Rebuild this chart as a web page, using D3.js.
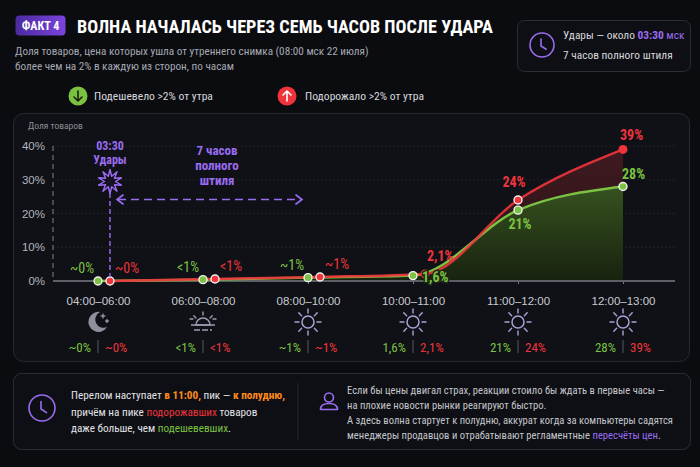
<!DOCTYPE html>
<html>
<head>
<meta charset="utf-8">
<script src="https://cdn.jsdelivr.net/npm/d3@7"></script>
<style>
  html, body { margin: 0; padding: 0; background: #0b0c10; }
  svg { display: block; font-family: "Roboto Condensed", "Liberation Sans Narrow", "DejaVu Sans Condensed", Roboto, sans-serif; }
</style>
</head>
<body>
<div id="chart"></div>
<script>
// Data
const categories = ["04:00–06:00", "06:00–08:00", "08:00–10:00", "10:00–11:00", "11:00–12:00", "12:00–13:00"];
const cheaper = [0, 0.4, 1, 1.6, 21, 28];      // подешевело >2%
const pricier = [0, 0.6, 1.2, 2.1, 24, 39];    // подорожало >2%
const cheaperLabels = ["~0%", "<1%", "~1%", "1,6%", "21%", "28%"];
const pricierLabels = ["~0%", "<1%", "~1%", "2,1%", "24%", "39%"];
const yTicks = [0, 10, 20, 30, 40];
const icons = ["moon", "sunrise", "sun", "sun", "sun", "sun"];

const W = 700, H = 467;
const GREEN = "#7cc242", RED = "#f0343c", PURPLE = "#9a6cf0", ORANGE = "#ff8a1c";

const svg = d3.select("#chart").append("svg")
    .attr("width", W)
    .attr("height", H)
    .attr("viewBox", `0 0 ${W} ${H}`);

const defs = svg.append("defs");
const badgeGrad = defs.append("linearGradient").attr("id", "badge").attr("x1", 0).attr("x2", 1);
badgeGrad.append("stop").attr("offset", 0).attr("stop-color", "#4b2a9e");
badgeGrad.append("stop").attr("offset", 1).attr("stop-color", "#7a44de");
const gArea = defs.append("linearGradient").attr("id", "gArea").attr("x1", 0).attr("x2", 0).attr("y1", 0).attr("y2", 1);
gArea.append("stop").attr("offset", 0).attr("stop-color", "#36521f");
gArea.append("stop").attr("offset", 1).attr("stop-color", "#18220f");
const rArea = defs.append("linearGradient").attr("id", "rArea").attr("x1", 0).attr("x2", 0).attr("y1", 0).attr("y2", 1);
rArea.append("stop").attr("offset", 0).attr("stop-color", "#3e1a20");
rArea.append("stop").attr("offset", 1).attr("stop-color", "#2a1217");

svg.append("rect").attr("width", W).attr("height", H).attr("fill", "#0b0c10");

// ---------- Header ----------
svg.append("rect").attr("x", 15.5).attr("y", 15.5).attr("width", 50).attr("height", 20)
    .attr("rx", 4).attr("fill", "url(#badge)");
svg.append("text").attr("x", 40.5).attr("y", 30).attr("text-anchor", "middle")
    .attr("fill", "#fff").attr("font-size", 12).attr("font-weight", 700).text("ФАКТ 4");
svg.append("text").attr("x", 77).attr("y", 32.5)
    .attr("fill", "#fff").attr("font-size", 18.2).attr("font-weight", 700)
    .text("ВОЛНА НАЧАЛАСЬ ЧЕРЕЗ СЕМЬ ЧАСОВ ПОСЛЕ УДАРА");

const sub = svg.append("text").attr("fill", "#a6a9b1").attr("font-size", 11.2);
sub.append("tspan").attr("x", 15).attr("y", 55).text("Доля товаров, цена которых ушла от утреннего снимка (08:00 мск 22 июля)");
sub.append("tspan").attr("x", 15).attr("y", 70).text("более чем на 2% в каждую из сторон, по часам");

// Legend
function arrowIcon(g, cx, cy, color, up, arrowColor) {
    g.append("circle").attr("cx", cx).attr("cy", cy).attr("r", 9.5).attr("fill", color);
    const d = up ? -1 : 1;
    g.append("path")
        .attr("d", `M${cx},${cy - 5 * d}L${cx},${cy + 5 * d}M${cx - 4},${cy + 1 * d}L${cx},${cy + 5 * d}L${cx + 4},${cy + 1 * d}`)
        .attr("fill", "none").attr("stroke", arrowColor).attr("stroke-width", 1.6)
        .attr("stroke-linecap", "round").attr("stroke-linejoin", "round");
}
const legend = svg.append("g");
arrowIcon(legend, 78, 96, GREEN, false, "#15200c");
legend.append("text").attr("x", 94).attr("y", 100).attr("fill", "#d6d7dc").attr("font-size", 11.6)
    .text("Подешевело >2% от утра");
arrowIcon(legend, 287, 96, RED, true, "#fff");
legend.append("text").attr("x", 305).attr("y", 100).attr("fill", "#d6d7dc").attr("font-size", 11.6)
    .text("Подорожало >2% от утра");

// Clock icon
function clock(g, cx, cy, r) {
    g.append("circle").attr("cx", cx).attr("cy", cy).attr("r", r)
        .attr("fill", "none").attr("stroke", PURPLE).attr("stroke-width", 1.6);
    g.append("path").attr("d", `M${cx - 1},${cy - r * 0.5}L${cx - 1},${cy + 1}L${cx + r * 0.35},${cy + r * 0.35}`)
        .attr("fill", "none").attr("stroke", PURPLE).attr("stroke-width", 1.6).attr("stroke-linecap", "round");
}

// Top-right box
const info = svg.append("g");
info.append("rect").attr("x", 517.5).attr("y", 20.5).attr("width", 173).attr("height", 51).attr("rx", 7)
    .attr("fill", "#0e0f14").attr("stroke", "#2c2e36");
clock(info, 542, 45, 12);
const t1 = info.append("text").attr("x", 563).attr("y", 39).attr("font-size", 11.4).attr("fill", "#d6d7dc");
t1.append("tspan").text("Удары — около ");
t1.append("tspan").attr("fill", PURPLE).attr("font-weight", 700).text("03:30 ");
t1.append("tspan").attr("fill", PURPLE).text("мск");
info.append("text").attr("x", 563).attr("y", 59).attr("font-size", 11.4).attr("fill", "#d6d7dc")
    .text("7 часов полного штиля");

// ---------- Chart panel ----------
svg.append("rect").attr("x", 13.5).attr("y", 113.5).attr("width", 676).attr("height", 248).attr("rx", 10)
    .attr("fill", "#0f1117").attr("stroke", "#262931");

svg.append("text").attr("x", 28).attr("y", 129).attr("fill", "#8a8d96").attr("font-size", 9.5)
    .text("Доля товаров");

const x = d3.scalePoint().domain(categories).range([98, 623]);
const y = d3.scaleLinear().domain([0, 40]).range([281, 146]);
const left = 53, right = 675;

// red points are nudged right when both values sit together near zero
const shift = i => Math.abs(pricier[i] - cheaper[i]) < 1 ? 12 : 0;
const gx = i => x(categories[i]);
const rx = i => x(categories[i]) + shift(i);

// grid
svg.append("g").selectAll("line")
    .data(yTicks.filter(t => t > 0))
    .join("line")
    .attr("x1", left).attr("x2", right)
    .attr("y1", d => y(d)).attr("y2", d => y(d))
    .attr("stroke", "#20232b").attr("stroke-dasharray", "2,2");

// y axis
const yAxis = svg.append("g").attr("transform", `translate(${left},0)`)
    .call(d3.axisLeft(y).tickValues(yTicks).tickFormat(d => d + "%").tickSize(0).tickPadding(8));
yAxis.select(".domain").remove();
yAxis.selectAll("text").attr("fill", "#b4b6bd").attr("font-size", 11.5).attr("font-family", null);
svg.append("line").attr("x1", left).attr("x2", left).attr("y1", y(40)).attr("y2", y(0))
    .attr("stroke", "#5b5e67").attr("stroke-width", 1.5).attr("stroke-dasharray", "5,4");

// areas
const idx = d3.range(categories.length);
const redArea = d3.area().x(i => rx(i)).y0(y(0)).y1(i => y(pricier[i])).curve(d3.curveMonotoneX);
const greenArea = d3.area().x(i => gx(i)).y0(y(0)).y1(i => y(cheaper[i])).curve(d3.curveMonotoneX);
svg.append("path").datum(idx).attr("d", redArea).attr("fill", "url(#rArea)");
svg.append("path").datum(idx).attr("d", greenArea).attr("fill", "url(#gArea)");

// baseline and x axis
const xAxis = svg.append("g").attr("transform", `translate(0,${y(0)})`)
    .call(d3.axisBottom(x).tickSize(3).tickPadding(13));
xAxis.select(".domain").remove();
xAxis.selectAll(".tick line").attr("stroke", "#777a83");
xAxis.selectAll("text").attr("fill", "#c9cbd1").attr("font-size", 11.5).attr("font-family", null);
svg.append("line").attr("x1", left).attr("x2", right).attr("y1", y(0)).attr("y2", y(0))
    .attr("stroke", "#5c5f68").attr("stroke-width", 2);

// lines
const greenLine = d3.line().x(i => gx(i)).y(i => y(cheaper[i])).curve(d3.curveMonotoneX);
const redLine = d3.line().x(i => rx(i)).y(i => y(pricier[i])).curve(d3.curveMonotoneX);
svg.append("path").datum(idx).attr("d", greenLine).attr("fill", "none").attr("stroke", GREEN).attr("stroke-width", 2.5);
svg.append("path").datum(idx).attr("d", redLine).attr("fill", "none").attr("stroke", RED).attr("stroke-width", 2.5).attr("stroke-opacity", 0.9);

// points
const last = categories.length - 1;
svg.append("g").selectAll("circle").data(idx).join("circle")
    .attr("cx", i => gx(i)).attr("cy", i => y(cheaper[i])).attr("r", 4)
    .attr("fill", GREEN).attr("stroke", "#f2f2f2").attr("stroke-width", 1.4);
svg.append("g").selectAll("circle").data(idx).join("circle")
    .attr("cx", i => rx(i)).attr("cy", i => y(pricier[i])).attr("r", i => i === last || i === 3 ? 4.5 : 4)
    .attr("fill", RED).attr("stroke", i => i === last || i === 3 ? "none" : "#f2f2f2").attr("stroke-width", 1.4);

// point labels (dark halo keeps them readable over the lines)
const gPlace = [[-4, -8, "end"], [-4, -8, "end"], [-4, -8, "end"], [9, 6, "start"], [2, 19, "middle"], [-1, -8, "start"]];
const rPlace = [[5, -8, "start"], [5, -8, "start"], [5, -8, "start"], [2, -13, "start"], [-4, -13, "middle"], [-3, -9, "start"]];
svg.append("g").selectAll("text").data(idx).join("text")
    .attr("x", i => gx(i) + gPlace[i][0]).attr("y", i => y(cheaper[i]) + gPlace[i][1])
    .attr("text-anchor", i => gPlace[i][2])
    .attr("fill", GREEN).attr("font-size", 14).attr("font-weight", i => i > 2 ? 700 : 400)
    .attr("stroke", i => i === 3 ? "#1c2614" : "none").attr("stroke-width", 3).attr("paint-order", "stroke")
    .text(i => cheaperLabels[i]);
svg.append("g").selectAll("text").data(idx).join("text")
    .attr("x", i => rx(i) + rPlace[i][0]).attr("y", i => y(pricier[i]) + rPlace[i][1])
    .attr("text-anchor", i => rPlace[i][2])
    .attr("fill", RED).attr("font-size", 14).attr("font-weight", i => i > 2 ? 700 : 400)
    .text(i => pricierLabels[i]);

// strike annotation at 03:30
const sx = rx(0);
const ann = svg.append("g");
ann.append("text").attr("x", sx).attr("y", 150).attr("text-anchor", "middle")
    .attr("fill", PURPLE).attr("font-size", 12).attr("font-weight", 700).text("03:30");
ann.append("text").attr("x", sx).attr("y", 164).attr("text-anchor", "middle")
    .attr("fill", PURPLE).attr("font-size", 12).attr("font-weight", 700).text("Удары");
const star = d3.range(20).map(k => {
    const a = k * Math.PI / 10 - Math.PI / 2;
    const r = k % 2 === 0 ? 12 : 5.5;
    return [sx + r * Math.cos(a), 181.5 + r * Math.sin(a)];
});
ann.append("path").attr("d", d3.line()(star) + "Z")
    .attr("fill", "#15131f").attr("stroke", PURPLE).attr("stroke-width", 1.4).attr("stroke-linejoin", "round");
ann.append("line").attr("x1", sx).attr("x2", sx).attr("y1", 193).attr("y2", y(0) - 4)
    .attr("stroke", PURPLE).attr("stroke-width", 1.4).attr("stroke-dasharray", "5,3");

// "7 часов полного штиля" span arrow
const ay = 199.5, ax1 = 117, ax2 = 302;
ann.append("line").attr("x1", ax1 + 1).attr("x2", ax2 - 1).attr("y1", ay).attr("y2", ay)
    .attr("stroke", PURPLE).attr("stroke-width", 1.6).attr("stroke-dasharray", "8,5");
ann.append("path")
    .attr("d", `M${ax1 + 6},${ay - 4.5}L${ax1},${ay}L${ax1 + 6},${ay + 4.5}M${ax2 - 6},${ay - 4.5}L${ax2},${ay}L${ax2 - 6},${ay + 4.5}`)
    .attr("fill", "none").attr("stroke", PURPLE).attr("stroke-width", 1.6).attr("stroke-linecap", "round");
["7 часов", "полного", "штиля"].forEach((s, k) => {
    ann.append("text").attr("x", 217).attr("y", 155 + k * 15).attr("text-anchor", "middle")
        .attr("fill", PURPLE).attr("font-size", 13).attr("font-weight", 700).text(s);
});

// ---------- time-of-day icons and value row ----------
const ICON = "#9c9db0", SUN = "#a8a4d6";
function drawIcon(g, type, cx, cy) {
    if (type === "moon") {
        g.append("path")
            .attr("d", `M${cx + 2},${cy - 10}A10,10 0 1,0 ${cx + 9},${cy + 5}A8,8 0 0,1 ${cx + 2},${cy - 10}Z`)
            .attr("fill", "#8e8f9c");
        [[cx + 5, cy - 6, 2.5], [cx + 9, cy - 1, 2]].forEach(([px, py, s]) => {
            g.append("path").attr("d", `M${px},${py - s}L${px},${py + s}M${px - s},${py}L${px + s},${py}`)
                .attr("stroke", "#b8b9c6").attr("stroke-width", 1);
        });
    } else if (type === "sunrise") {
        g.append("path").attr("d", `M${cx - 7},${cy + 3}A7,7 0 0,1 ${cx + 7},${cy + 3}Z`)
            .attr("fill", "none").attr("stroke", ICON).attr("stroke-width", 1.5);
        g.append("line").attr("x1", cx - 12).attr("x2", cx + 12).attr("y1", cy + 3).attr("y2", cy + 3)
            .attr("stroke", ICON).attr("stroke-width", 1.5);
        g.append("line").attr("x1", cx - 9).attr("x2", cx + 9).attr("y1", cy + 8).attr("y2", cy + 8)
            .attr("stroke", ICON).attr("stroke-width", 1.3).attr("stroke-dasharray", "6,2");
        [-90, -45, -135, 0, 180].forEach(a => {
            const r = a * Math.PI / 180;
            const side = a === 0 || a === 180 ? 6 : 0;
            g.append("line")
                .attr("x1", cx + 10 * Math.cos(r)).attr("y1", cy + 3 + 10 * Math.sin(r) - side)
                .attr("x2", cx + 13 * Math.cos(r)).attr("y2", cy + 3 + 13 * Math.sin(r) - side)
                .attr("stroke", ICON).attr("stroke-width", 1.4).attr("stroke-linecap", "round");
        });
    } else {
        g.append("circle").attr("cx", cx).attr("cy", cy).attr("r", 6)
            .attr("fill", "none").attr("stroke", SUN).attr("stroke-width", 1.5);
        d3.range(8).forEach(k => {
            const a = k * Math.PI / 4;
            g.append("line")
                .attr("x1", cx + 9 * Math.cos(a)).attr("y1", cy + 9 * Math.sin(a))
                .attr("x2", cx + 13 * Math.cos(a)).attr("y2", cy + 13 * Math.sin(a))
                .attr("stroke", SUN).attr("stroke-width", 1.4).attr("stroke-linecap", "round");
        });
    }
}
const row = svg.append("g");
idx.forEach(i => {
    const cx = x(categories[i]);
    drawIcon(row, icons[i], cx, 322);
    row.append("text").attr("x", cx - 7).attr("y", 351.5).attr("text-anchor", "end")
        .attr("fill", GREEN).attr("font-size", 13).text(cheaperLabels[i]);
    row.append("line").attr("x1", cx).attr("x2", cx).attr("y1", 340).attr("y2", 353)
        .attr("stroke", "#4a4d56").attr("stroke-width", 1.2);
    row.append("text").attr("x", cx + 7).attr("y", 351.5).attr("text-anchor", "start")
        .attr("fill", RED).attr("font-size", 13).text(pricierLabels[i]);
});

// ---------- Bottom note ----------
const note = svg.append("g");
note.append("rect").attr("x", 13.5).attr("y", 373.5).attr("width", 677).attr("height", 76).attr("rx", 8)
    .attr("fill", "#0e0f14").attr("stroke", "#2c2e36");
clock(note, 42, 408, 13);

const leftLines = [
    [["Перелом наступает ", null], ["в 11:00,", ORANGE], [" пик — ", null], ["к полудню,", ORANGE]],
    [["причём на пике ", null], ["подорожавших", RED], [" товаров", null]],
    [["даже больше, чем ", null], ["подешевевших", GREEN], [".", null]]
];
leftLines.forEach((parts, k) => {
    const t = note.append("text").attr("x", 71).attr("y", 399 + k * 16.5)
        .attr("font-size", 11.2).attr("fill", "#e2e3e7");
    parts.forEach(([s, c]) => {
        const sp = t.append("tspan").text(s);
        if (c) sp.attr("fill", c).attr("font-weight", c === ORANGE ? 700 : 400);
    });
});
note.append("line").attr("x1", 298).attr("x2", 298).attr("y1", 383).attr("y2", 440)
    .attr("stroke", "#262830");

// person icon
note.append("circle").attr("cx", 329).attr("cy", 397.5).attr("r", 4.5)
    .attr("fill", "none").attr("stroke", PURPLE).attr("stroke-width", 1.6);
note.append("path").attr("d", "M320.5,409.5Q320.5,403.5 329,403.5Q337.5,403.5 337.5,409.5Z")
    .attr("fill", "none").attr("stroke", PURPLE).attr("stroke-width", 1.6).attr("stroke-linejoin", "round");

const rightLines = [
    [["Если бы цены двигал страх, реакции стоило бы ждать в первые часы —", null]],
    [["на плохие новости рынки реагируют быстро.", null]],
    [["А здесь волна стартует к полудню, аккурат когда за компьютеры садятся", null]],
    [["менеджеры продавцов и отрабатывают регламентные ", null], ["пересчёты цен", PURPLE], [".", null]]
];
rightLines.forEach((parts, k) => {
    const t = note.append("text").attr("x", 347).attr("y", 393.5 + k * 15)
        .attr("font-size", 10.6).attr("fill", "#c3c5cb");
    parts.forEach(([s, c]) => {
        const sp = t.append("tspan").text(s);
        if (c) sp.attr("fill", c);
    });
});
</script>
</body>
</html>
